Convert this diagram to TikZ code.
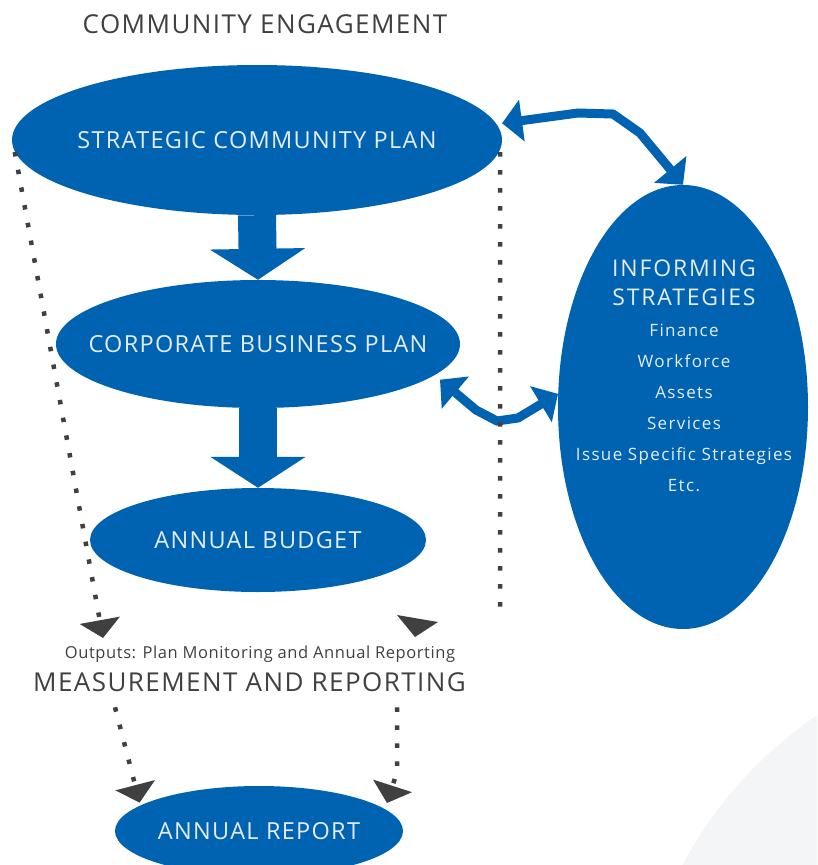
\documentclass[tikz,border=0pt]{standalone}
\usepackage{fontspec}
\setmainfont{Open Sans}
\newfontfamily\spaced{Open Sans}[LetterSpace=5.5]
\newfontfamily\spacedwide{Open Sans}[LetterSpace=8]
\newfontfamily\spacedsmall{Open Sans}[LetterSpace=3.5]
\usetikzlibrary{shapes.geometric,arrows.meta}
\definecolor{planblue}{RGB}{0,99,177}
\definecolor{plantext}{RGB}{228,236,247}
\definecolor{headgray}{RGB}{64,64,64}
\definecolor{bggray}{RGB}{244,245,247}
\begin{document}
\begin{tikzpicture}[x=1pt,y=-1pt,
  plan/.style={ellipse,fill=planblue,inner sep=0pt},
  plantitle/.style={text=plantext,font=\spaced\fontsize{23.5}{28}\selectfont},
  big/.style={planblue,line width=38pt,-{Triangle[width=94pt,length=31pt]}},
  link/.style={planblue,line width=9pt,{Triangle[width=41pt,length=20pt]}-{Triangle[width=41pt,length=20pt]}},
  dots/.style={headgray,line width=4.5pt,dash pattern=on 4.5pt off 13.5pt},
  dotarrow/.style={dots,-{Triangle[width=40pt,length=18pt]}},
  title/.style={text=headgray,font=\spaced\fontsize{26}{30}\selectfont}]
\clip (0,0) rectangle (817,865);
\fill[bggray] (1050,1060) circle (416);
% the plans
\node[plan,minimum width=490pt,minimum height=150pt,label={[plantitle]center:STRATEGIC COMMUNITY PLAN}] (scp) at (257,140) {};
\node[plan,minimum width=404pt,minimum height=128pt,label={[plantitle]center:CORPORATE BUSINESS PLAN}] (cbp) at (258,344) {};
\node[plan,minimum width=336pt,minimum height=104pt,label={[plantitle]center:ANNUAL BUDGET}] (ab) at (258,540) {};
\node[plan,minimum width=288pt,minimum height=90pt,label={[plantitle]center:ANNUAL REPORT}] (ar) at (259,831) {};
\node[plan,minimum width=250pt,minimum height=444pt] (inf) at (683,407) {};
\node[text=plantext,text width=250pt,align=center,anchor=north,inner sep=0pt,
  font=\spacedwide\fontsize{17}{31}\selectfont] (inftext) at (684,259.5)
  {{\fontsize{23}{29}\selectfont INFORMING\\STRATEGIES\par}
   Finance\\Workforce\\Assets\\Services\\Issue Specific Strategies\\Etc.\par};
% headings
\node[title] (ce) at (265,24) {COMMUNITY ENGAGEMENT};
\node[text=headgray,font=\spacedsmall\fontsize{16.5}{20}\selectfont,anchor=base] (out) at (260,658.5) {Outputs: Plan Monitoring and Annual Reporting};
\node[title,anchor=base] (mr) at (249.5,691.5) {MEASUREMENT AND REPORTING};
% flow down
\draw[big] (scp.south) -- (cbp.north);
\draw[big] (cbp.south) -- (ab.north);
% links to informing strategies
\draw[link] ([shift={(6,0)}]scp.4) -- (578,113) -- (613,114) -- (640,133) -- (inf.north);
\draw[link] ([shift={(14,0)}]cbp.-12) -- (476,410) -- (497,421) -- (518,418) -- (inf.174);
% outputs
\coordinate (outL) at (103,638);
\coordinate (outR) at (500,615);
\draw[dotarrow] ([shift={(3,12)}]scp.west) -- (outL);
\draw[dots] ([shift={(-2,12)}]scp.east) -- (outR);
\fill[headgray] (397,615) -- (438,622) -- (415,637) -- cycle;
\draw[dotarrow] ([shift={(-134.5,12)}]mr.south) -- ([yshift=3pt]ar.168);
\draw[dotarrow] ([shift={(147.5,12)}]mr.south) -- (397,772) -- (387,803);
\end{tikzpicture}
\end{document}
